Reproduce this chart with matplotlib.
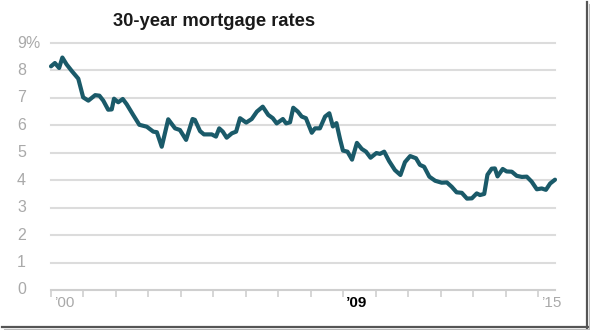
import matplotlib
matplotlib.use("Agg")
import matplotlib.pyplot as plt
import matplotlib.transforms as mtransforms
from matplotlib.lines import Line2D

# --- data ---
years = [
    2000.00, 2000.12, 2000.25, 2000.35, 2000.48, 2000.64, 2000.84, 2000.99,
    2001.15, 2001.36, 2001.49, 2001.61, 2001.76, 2001.87, 2001.94, 2002.07,
    2002.21, 2002.33, 2002.53, 2002.72, 2002.95, 2003.15, 2003.26, 2003.41,
    2003.61, 2003.82, 2003.97, 2004.16, 2004.36, 2004.43, 2004.59, 2004.71,
    2004.95, 2005.08, 2005.18, 2005.29, 2005.41, 2005.57, 2005.70, 2005.82,
    2006.01, 2006.18, 2006.34, 2006.52, 2006.69, 2006.83, 2006.95, 2007.14,
    2007.24, 2007.36, 2007.46, 2007.60, 2007.72, 2007.85, 2008.03, 2008.13,
    2008.28, 2008.44, 2008.57, 2008.68, 2008.79, 2008.90, 2008.99, 2009.13,
    2009.27, 2009.42, 2009.57, 2009.70, 2009.84, 2010.02, 2010.13, 2010.26,
    2010.41, 2010.59, 2010.76, 2010.90, 2011.06, 2011.24, 2011.36, 2011.49,
    2011.65, 2011.83, 2012.03, 2012.19, 2012.34, 2012.49, 2012.65, 2012.81,
    2012.96, 2013.11, 2013.21, 2013.34, 2013.44, 2013.57, 2013.67, 2013.75,
    2013.91, 2014.03, 2014.19, 2014.34, 2014.50, 2014.65, 2014.80, 2014.96,
    2015.11, 2015.24, 2015.37, 2015.52,
]
rates = [
    8.15, 8.27, 8.09, 8.47, 8.22, 7.98, 7.70, 7.02,
    6.90, 7.10, 7.08, 6.90, 6.57, 6.58, 6.97, 6.84,
    6.96, 6.77, 6.38, 6.02, 5.95, 5.77, 5.75, 5.22,
    6.22, 5.89, 5.83, 5.47, 6.23, 6.20, 5.79, 5.67,
    5.67, 5.59, 5.89, 5.77, 5.55, 5.71, 5.77, 6.26,
    6.10, 6.23, 6.50, 6.68, 6.38, 6.26, 6.07, 6.23,
    6.07, 6.11, 6.64, 6.50, 6.32, 6.26, 5.73, 5.89,
    5.89, 6.32, 6.44, 5.96, 6.08, 5.50, 5.08, 5.04,
    4.75, 5.36, 5.14, 5.04, 4.82, 4.99, 4.96, 5.04,
    4.70, 4.37, 4.19, 4.66, 4.88, 4.80, 4.56, 4.49,
    4.13, 3.98, 3.91, 3.92, 3.76, 3.56, 3.54, 3.33,
    3.34, 3.52, 3.46, 3.50, 4.20, 4.42, 4.43, 4.14,
    4.41, 4.32, 4.31, 4.16, 4.12, 4.13, 3.95, 3.67,
    3.70, 3.65, 3.88, 4.02,
]
y_ticks = [0, 1, 2, 3, 4, 5, 6, 7, 8, 9]
y_labels = ["0", "1", "2", "3", "4", "5", "6", "7", "8", "9%"]
x_ticks = list(range(2000, 2016))
x_labels = {2000: "\u201900", 2009: "\u201909", 2015: "\u201915"}

LINE = "#1a5a69"
GRID = "#dcdcdc"
LABEL = "#a9a9a9"

plt.rcParams['font.family'] = ['Liberation Sans', 'DejaVu Sans']

fig = plt.figure(figsize=(5.9, 3.3), dpi=100)
ax = fig.add_axes([51 / 590, 1 - 290 / 330, 504 / 590, 247 / 330])
ax.set_xlim(2000, 2015.52)
ax.set_ylim(0, 9)

# gridlines (0 line is the axis baseline)
for v in y_ticks[1:]:
    ax.axhline(v, color=GRID, lw=1.5, zorder=1, clip_on=False)
ax.axhline(0, color="#cfcfcf", lw=1.5, zorder=1, clip_on=False)

ax.plot(years, rates, color=LINE, lw=3.0, solid_joinstyle="round",
        solid_capstyle="round", zorder=3, clip_on=False)

for s in ax.spines.values():
    s.set_visible(False)
ax.set_yticks([])
ax.set_xticks(x_ticks)
ax.set_xticklabels([])
ax.tick_params(axis="x", length=5, width=1.2, color="#cfcfcf", direction="out")

# y labels, left aligned near the figure edge
ytrans = mtransforms.blended_transform_factory(fig.transFigure, ax.transData)
for v, lab in zip(y_ticks, y_labels):
    ax.text(17 / 590, v, lab, transform=ytrans, ha="left", va="center",
            fontsize=11.5, color=LABEL)

# x labels, left aligned just right of their tick
xtrans = mtransforms.offset_copy(ax.get_xaxis_transform(), fig=fig, x=3, y=-13, units="dots")
for yr, lab in x_labels.items():
    bold = yr == 2009
    ax.text(yr, 0, lab, transform=xtrans, ha="left", va="center", fontsize=11,
            color="black" if bold else LABEL, fontweight="bold" if bold else "normal")

fig.text(113 / 590, 1 - 22 / 330, "30-year mortgage rates", ha="left", va="center",
         fontsize=13.2, fontweight="bold", color="#1a1a1a")

# picture frame with drop shadow on right / bottom
fig.add_artist(Line2D([587 / 590, 587 / 590], [2 / 330, 1 - 2 / 330],
                      transform=fig.transFigure, color="#555555", lw=1.6))
fig.add_artist(Line2D([2 / 590, 588 / 590], [3 / 330, 3 / 330],
                      transform=fig.transFigure, color="#555555", lw=1.6))
fig.add_artist(Line2D([589 / 590, 589 / 590], [1 / 330, 1 - 4 / 330],
                      transform=fig.transFigure, color="#bbbbbb", lw=0.8))
fig.add_artist(Line2D([4 / 590, 590 / 590], [1 / 330, 1 / 330],
                      transform=fig.transFigure, color="#bbbbbb", lw=0.8))

fig.savefig("out.png", dpi=100)
